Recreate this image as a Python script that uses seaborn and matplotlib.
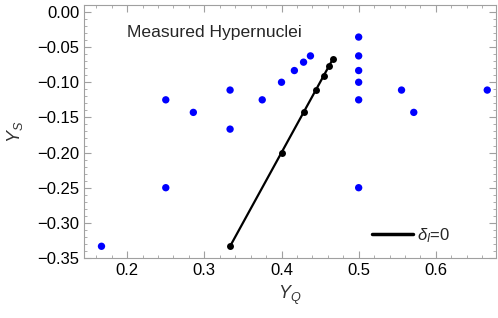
import matplotlib
matplotlib.use("Agg")
import matplotlib.pyplot as plt
import seaborn as sns
import pandas as pd
from matplotlib.ticker import MultipleLocator, FuncFormatter

# Measured hypernuclei (Y_Q = Z/A, Y_S = S/A)
hyp_yq = [1/6, 1/4, 1/4, 2/7, 1/3, 1/3, 3/8, 2/5, 5/12, 3/7, 7/16,
          1/2, 1/2, 1/2, 1/2, 1/2, 1/2, 5/9, 4/7, 2/3]
hyp_ys = [-1/3, -1/4, -1/8, -1/7, -1/9, -1/6, -1/8, -1/10, -1/12, -1/14, -1/16,
          -1/28, -1/16, -1/12, -1/10, -1/8, -1/4, -1/9, -1/7, -1/9]

# delta_I = 0 line
iso_yq = [1/3, 2/5, 3/7, 4/9, 5/11, 6/13, 7/15]
iso_ys = [-1/3, -1/5, -1/7, -1/9, -1/11, -1/13, -1/15]

xticks = [0.2, 0.3, 0.4, 0.5, 0.6]
yticks = [0.00, -0.05, -0.10, -0.15, -0.20, -0.25, -0.30, -0.35]

sns.set_style("ticks")
plt.rcParams['font.family'] = ['Liberation Sans', 'DejaVu Sans']
plt.rcParams['mathtext.fontset'] = 'custom'
plt.rcParams['mathtext.rm'] = 'Liberation Sans'
plt.rcParams['mathtext.it'] = 'Liberation Sans:italic'

df_h = pd.DataFrame({"YQ": hyp_yq, "YS": hyp_ys})
df_i = pd.DataFrame({"YQ": iso_yq, "YS": iso_ys})

fig = plt.figure(figsize=(4.98, 3.18), dpi=100)
ax = fig.add_axes([84/498, 1-258/318, 412/498, 253/318])

sns.scatterplot(data=df_h, x="YQ", y="YS", ax=ax, color=(0, 0, 1), s=28,
                edgecolor="none", zorder=3)
sns.lineplot(data=df_i, x="YQ", y="YS", ax=ax, color="black", lw=1.6,
             marker="o", markersize=5, markeredgewidth=0, sort=False,
             label=r"$\delta_I$=0", zorder=4)

ax.set_xlim(0.144, 0.678)
ax.set_ylim(-0.35, 0.0099)
ax.set_xticks(xticks)
ax.set_yticks(yticks)
ax.xaxis.set_minor_locator(MultipleLocator(0.02))
ax.yaxis.set_minor_locator(MultipleLocator(0.01))
ax.xaxis.set_major_formatter(FuncFormatter(lambda v, p: f"{v:.1f}"))
ax.yaxis.set_major_formatter(FuncFormatter(lambda v, p: f"{v:.2f}".replace("-", "\u2212") if abs(v) > 1e-9 else "0.00"))

frame_col = "#a0a0a0"
for sp in ax.spines.values():
    sp.set_color(frame_col)
    sp.set_linewidth(0.8)
ax.tick_params(which="both", direction="in", top=True, right=True,
               color=frame_col, labelsize=12, labelcolor="black")
ax.tick_params(which="major", length=5, width=0.8)
ax.tick_params(which="minor", length=2.5, width=0.6)

ax.set_xlabel(r"$Y_Q$", fontsize=13, color="#333333", labelpad=4)
ax.set_ylabel(r"$Y_S$", fontsize=13, color="#333333", labelpad=9)

ax.text((127-84)/412, 1-(33-5)/253, "Measured Hypernuclei", fontsize=12.6,
        ha="left", va="center", transform=ax.transAxes)

leg = ax.legend(loc="center left", bbox_to_anchor=((372-84)/412, 1-(235.5-5)/253),
                frameon=False, borderaxespad=0, borderpad=0,
                handlelength=2.46, fontsize=12, handletextpad=0.25)
for h in leg.legend_handles:
    h.set_marker("")
    h.set_linewidth(2.5)

fig.savefig("out.png", dpi=100)
